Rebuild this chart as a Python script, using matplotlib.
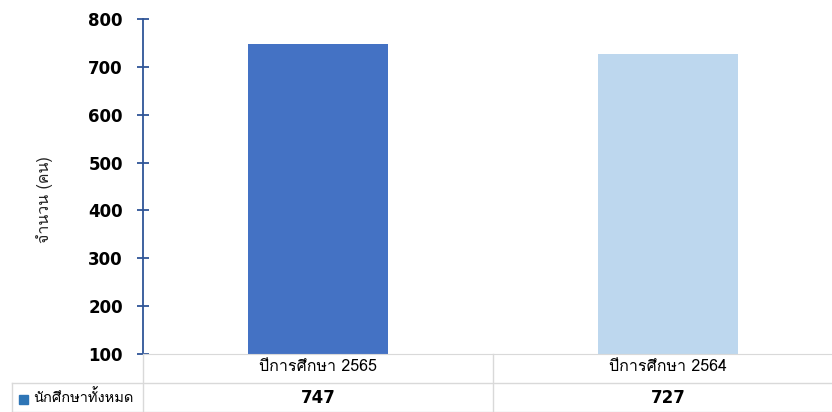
import matplotlib
matplotlib.use('Agg')
import matplotlib.pyplot as plt
from matplotlib import font_manager
from matplotlib.ft2font import FT2Font
from matplotlib.transforms import blended_transform_factory

categories = ['ปีการศึกษา 2565', 'ปีการศึกษา 2564']
students = [747, 727]
series_name = 'นักศึกษาทั้งหมด'
ylabel = 'จำนวน (คน)'
bar_colors = ['#4472C4', '#BDD7EE']

# look for any installed font that has Thai glyphs
thai = []
for f in font_manager.fontManager.ttflist:
    try:
        if 0x0E01 in FT2Font(f.fname).get_charmap() and f.name not in thai:
            thai.append(f.name)
    except Exception:
        pass
plt.rcParams['font.family'] = ['DejaVu Sans'] + thai[:1]
thai_fam = thai[:1] + ['DejaVu Sans']

W, H = 832, 412
fig = plt.figure(figsize=(W/100, H/100), dpi=100)
ax = fig.add_axes([143/W, (H-354)/H, 700/W, (354-19)/H])

x = range(len(categories))
ax.bar(x, students, width=0.4, color=bar_colors, bottom=0)
ax.set_xlim(-0.5, len(categories)-0.5)
ax.set_ylim(100, 800)
ax.set_yticks(range(100, 801, 100))
ax.set_xticks([])
for s in ['top', 'right']:
    ax.spines[s].set_visible(False)
ax.spines['left'].set_color('#2F5597')
ax.spines['left'].set_linewidth(1.3)
ax.spines['bottom'].set_color('#D9D9D9')
ax.tick_params(axis='y', direction='inout', length=9, width=1.3, color='#2F5597',
               labelsize=12, pad=10)
for t in ax.get_yticklabels():
    t.set_fontweight('bold')
fig.text(45/W, 1-200/H, ylabel, rotation=90, ha='center', va='center',
         fontsize=11.5, color='#222222', family=thai_fam)

# data table under the chart
grey = '#D9D9D9'
def hline(y, x0, x1):
    fig.add_artist(plt.Line2D([x0/W, x1/W], [1-y/H, 1-y/H], color=grey, lw=1))
def vline(xp, y0, y1):
    fig.add_artist(plt.Line2D([xp/W, xp/W], [1-y0/H, 1-y1/H], color=grey, lw=1))
hline(383, 12, W)
hline(411.5, 12, W)
vline(143, 354, 412)
vline(493, 354, 412)
vline(12, 383, 412)

tr = blended_transform_factory(ax.transData, fig.transFigure)
for i, (c, v) in enumerate(zip(categories, students)):
    ax.text(i, 1-367/H, c, transform=tr, ha='center', va='center',
            fontsize=11.5, family=thai_fam)
    ax.text(i, 1-398/H, str(v), transform=tr, ha='center', va='center',
            fontsize=12, fontweight='bold')

fig.patches.append(plt.Rectangle((19/W, 1-404/H), 9/W, 9/H, color='#2E75B6',
                                 transform=fig.transFigure, figure=fig))
fig.text(33/W, 1-397/H, series_name, ha='left', va='center', fontsize=10.5,
         family=thai_fam)

fig.savefig('out.png', dpi=100)
